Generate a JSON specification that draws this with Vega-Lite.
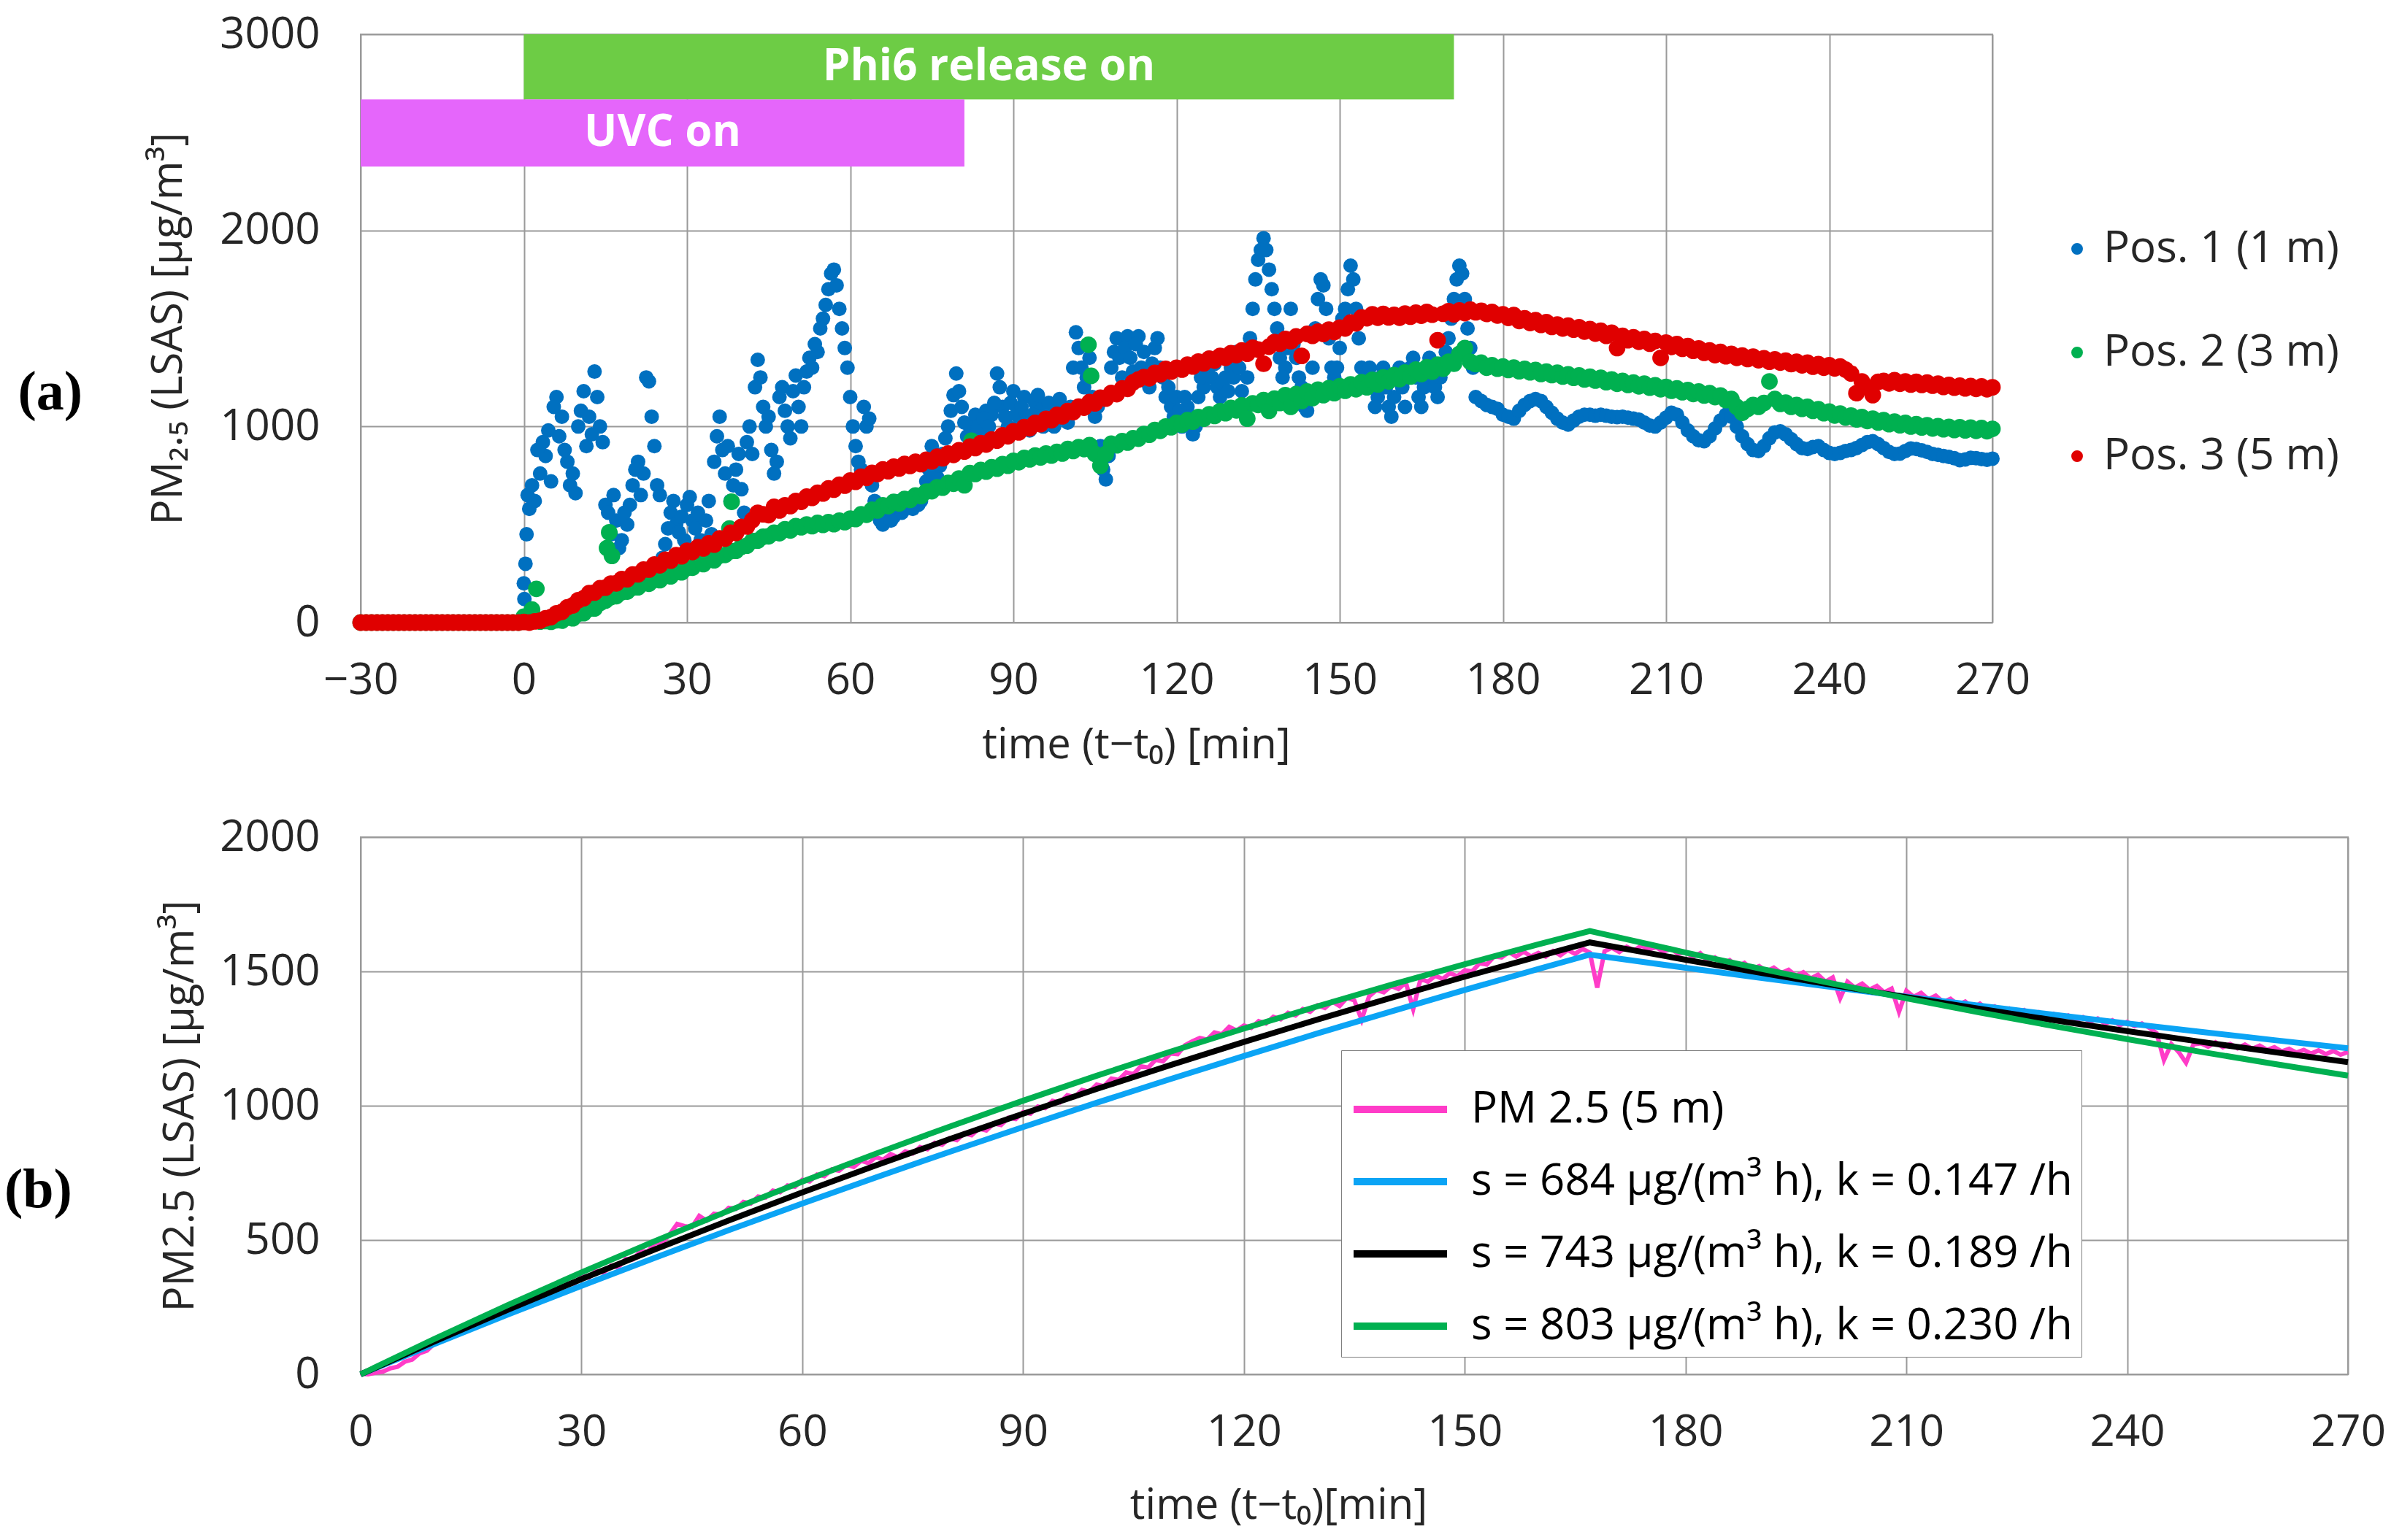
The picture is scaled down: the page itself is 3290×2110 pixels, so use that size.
{
"$schema":"https://vega.github.io/schema/vega-lite/v6.json",
"background":"white",
"padding":{"left":5,"top":16,"right":5,"bottom":5},
"spacing":65,
"config":{
"font":"Open Sans",
"view":{"stroke":"#9a9a9a","strokeWidth":2},
"axis":{"grid":true,"gridColor":"#9a9a9a","gridWidth":2,"domain":false,"ticks":false,"labelFont":"Open Sans","labelFontSize":60,"labelColor":"#262626","labelFlush":false,"labelOverlap":false,"titleFont":"Open Sans","titleFontSize":58,"titleFontWeight":"normal","titleColor":"#262626"},
"legend":{"labelFont":"Open Sans","labelFontSize":60,"labelColor":"#262626","title":null}
},
"resolve":{"scale":{"color":"independent","x":"independent","y":"independent"},"legend":{"color":"independent"}},
"datasets":{
"bars":[{"label":"Phi6 release on","start":0,"end":171,"lo":2668,"hi":3000,"mid":85.5,"ymid":2834},{"label":"UVC on","start":-30,"end":81,"lo":2325,"hi":2668,"mid":25.5,"ymid":2496}],
"fit":[
{"t":0,"s684":0,"s743":0,"s803":0},{"t":10,"s684":112.6,"s743":121.9,"s803":131.3},{"t":20,"s684":222.5,"s743":240.0,"s803":257.7},{"t":30,"s684":329.7,"s743":354.5,"s803":379.3},{"t":40,"s684":434.4,"s743":465.4,"s803":496.3},{"t":50,"s684":536.5,"s743":572.9,"s803":609.0},{"t":60,"s684":636.1,"s743":677.0,"s803":717.4},{"t":70,"s684":733.3,"s743":777.9,"s803":821.7},{"t":80,"s684":828.2,"s743":875.6,"s803":922.1},{"t":90,"s684":920.7,"s743":970.3,"s803":1018.7},{"t":100,"s684":1011.1,"s743":1062.3,"s803":1111.7},{"t":110,"s684":1099.3,"s743":1151.1,"s803":1201.2},{"t":120,"s684":1185.2,"s743":1237.3,"s803":1287.3},{"t":130,"s684":1269.2,"s743":1320.9,"s803":1370.2},{"t":140,"s684":1351.1,"s743":1401.9,"s803":1450.0},{"t":150,"s684":1431.0,"s743":1480.3,"s803":1526.8},{"t":160,"s684":1509.0,"s743":1556.3,"s803":1600.6},{"t":167,"s684":1562.6,"s743":1608.1,"s803":1650.7},{"t":180,"s684":1513.6,"s743":1543.6,"s803":1570.5},{"t":190,"s684":1477.0,"s743":1495.7,"s803":1511.4},{"t":200,"s684":1441.2,"s743":1449.3,"s803":1454.6},{"t":210,"s684":1406.4,"s743":1404.4,"s803":1399.9},{"t":220,"s684":1372.3,"s743":1360.8,"s803":1347.2},{"t":230,"s684":1339.1,"s743":1318.6,"s803":1296.6},{"t":240,"s684":1306.7,"s743":1277.8,"s803":1247.8},{"t":250,"s684":1275.1,"s743":1238.1,"s803":1200.9},{"t":260,"s684":1244.2,"s743":1199.7,"s803":1155.7},{"t":270,"s684":1214.1,"s743":1162.5,"s803":1112.2}
],
"pm":[
{"t":-30,"b":0,"g":0,"r":0},{"t":-29,"b":0,"g":0,"r":0},{"t":-28,"b":0,"g":0,"r":0},{"t":-27,"b":0,"g":0,"r":0},{"t":-26,"b":0,"g":0,"r":0},{"t":-25,"b":0,"g":0,"r":0},{"t":-24,"b":0,"g":0,"r":0},{"t":-23,"b":0,"g":0,"r":0},{"t":-22,"b":0,"g":0,"r":0},{"t":-21,"b":0,"g":0,"r":0},{"t":-20,"b":0,"g":0,"r":0},{"t":-19,"b":0,"g":0,"r":0},{"t":-18,"b":0,"g":0,"r":0},{"t":-17,"b":0,"g":0,"r":0},{"t":-16,"b":0,"g":0,"r":0},{"t":-15,"b":0,"g":0,"r":0},{"t":-14,"b":0,"g":0,"r":0},{"t":-13,"b":0,"g":0,"r":0},{"t":-12,"b":0,"g":0,"r":0},{"t":-11,"b":0,"g":0,"r":0},{"t":-10,"b":0,"g":0,"r":0},{"t":-9,"b":0,"g":0,"r":0},{"t":-8,"b":0,"g":0,"r":0},{"t":-7,"b":0,"g":0,"r":0},{"t":-6,"b":0,"g":0,"r":0},{"t":-5,"b":0,"g":0,"r":0},{"t":-4,"b":0,"g":0,"r":0},{"t":-3,"b":0,"g":0,"r":0},{"t":-2,"b":0,"g":0,"r":0},{"t":-1,"b":0,"g":0,"r":0},
{"t":0,"b":200,"g":30,"r":3},{"t":1,"b":580,"g":15,"r":0},{"t":2,"b":620,"g":25,"r":6},{"t":3,"b":760,"g":5,"r":10},{"t":4,"b":850,"g":8,"r":22},{"t":5,"b":720,"g":4,"r":28},{"t":6,"b":1150,"g":12,"r":47},{"t":7,"b":1050,"g":10,"r":55},{"t":8,"b":820,"g":25,"r":78},{"t":9,"b":760,"g":22,"r":88},
{"t":10,"b":1000,"g":45,"r":114},{"t":11,"b":1180,"g":48,"r":124},{"t":12,"b":1050,"g":70,"r":150},{"t":13,"b":1280,"g":72,"r":153},{"t":14,"b":1000,"g":100,"r":175},{"t":15,"b":600,"g":112,"r":178},{"t":16,"b":450,"g":130,"r":199},{"t":17,"b":520,"g":135,"r":200},{"t":18,"b":420,"g":155,"r":222},{"t":19,"b":500,"g":158,"r":221},
{"t":20,"b":700,"g":178,"r":245},{"t":21,"b":820,"g":180,"r":246},{"t":22,"b":760,"g":200,"r":270},{"t":23,"b":1230,"g":198,"r":270},{"t":24,"b":900,"g":218,"r":296},{"t":25,"b":650,"g":216,"r":292},{"t":26,"b":400,"g":238,"r":320},{"t":27,"b":560,"g":236,"r":316},{"t":28,"b":500,"g":258,"r":344},{"t":29,"b":540,"g":256,"r":338},
{"t":30,"b":600,"g":278,"r":366},{"t":31,"b":520,"g":280,"r":360},{"t":32,"b":560,"g":302,"r":385},{"t":33,"b":400,"g":298,"r":378},{"t":34,"b":620,"g":322,"r":404},{"t":35,"b":820,"g":318,"r":398},{"t":36,"b":1050,"g":342,"r":429},{"t":37,"b":760,"g":345,"r":428},{"t":38,"b":620,"g":364,"r":458},{"t":39,"b":780,"g":366,"r":457},
{"t":40,"b":680,"g":386,"r":488},{"t":41,"b":920,"g":392,"r":490},{"t":42,"b":860,"g":416,"r":522},{"t":43,"b":1340,"g":418,"r":560},{"t":44,"b":1100,"g":438,"r":552},{"t":45,"b":1050,"g":440,"r":548},{"t":46,"b":760,"g":458,"r":590},{"t":47,"b":1150,"g":456,"r":572},{"t":48,"b":1080,"g":476,"r":598},{"t":49,"b":940,"g":470,"r":594},
{"t":50,"b":1260,"g":492,"r":620},{"t":51,"b":1000,"g":486,"r":616},{"t":52,"b":1280,"g":500,"r":642},{"t":53,"b":1300,"g":492,"r":636},{"t":54,"b":1380,"g":508,"r":662},{"t":55,"b":1550,"g":498,"r":658},{"t":56,"b":1700,"g":512,"r":684},{"t":57,"b":1800,"g":502,"r":678},{"t":58,"b":1600,"g":520,"r":703},{"t":59,"b":1400,"g":512,"r":698},
{"t":60,"b":1150,"g":530,"r":724},{"t":61,"b":900,"g":528,"r":718},{"t":62,"b":780,"g":552,"r":744},{"t":63,"b":1000,"g":550,"r":738},{"t":64,"b":700,"g":575,"r":763},{"t":65,"b":560,"g":572,"r":758},{"t":66,"b":500,"g":598,"r":781},{"t":67,"b":560,"g":594,"r":772},{"t":68,"b":540,"g":615,"r":795},{"t":69,"b":620,"g":608,"r":786},
{"t":70,"b":580,"g":630,"r":809},{"t":71,"b":620,"g":626,"r":799},{"t":72,"b":640,"g":648,"r":820},{"t":73,"b":620,"g":645,"r":808},{"t":74,"b":720,"g":668,"r":830},{"t":75,"b":900,"g":670,"r":822},{"t":76,"b":740,"g":690,"r":846},{"t":77,"b":860,"g":688,"r":838},{"t":78,"b":1000,"g":712,"r":862},{"t":79,"b":1160,"g":708,"r":855},
{"t":80,"b":1180,"g":735,"r":879},{"t":81,"b":1020,"g":700,"r":872},{"t":82,"b":1000,"g":762,"r":897},{"t":83,"b":1060,"g":758,"r":890},{"t":84,"b":960,"g":778,"r":915},{"t":85,"b":1080,"g":770,"r":908},{"t":86,"b":1060,"g":792,"r":934},{"t":87,"b":1270,"g":785,"r":928},{"t":88,"b":1100,"g":808,"r":955},{"t":89,"b":1000,"g":800,"r":950},
{"t":90,"b":1180,"g":825,"r":976},{"t":91,"b":1000,"g":818,"r":970},{"t":92,"b":1150,"g":840,"r":997},{"t":93,"b":980,"g":832,"r":991},{"t":94,"b":1120,"g":852,"r":1018},{"t":95,"b":1080,"g":842,"r":1012},{"t":96,"b":1060,"g":862,"r":1039},{"t":97,"b":1060,"g":852,"r":1032},{"t":98,"b":1080,"g":870,"r":1059},{"t":99,"b":1100,"g":862,"r":1052},
{"t":100,"b":1020,"g":885,"r":1079},{"t":101,"b":1300,"g":875,"r":1073},{"t":102,"b":1400,"g":895,"r":1101},{"t":103,"b":1200,"g":885,"r":1096},{"t":104,"b":1350,"g":905,"r":1124},{"t":105,"b":1050,"g":860,"r":1118},{"t":106,"b":900,"g":800,"r":1147},{"t":107,"b":730,"g":860,"r":1142},{"t":108,"b":1300,"g":912,"r":1171},{"t":109,"b":1450,"g":904,"r":1165},
{"t":110,"b":1250,"g":925,"r":1194},{"t":111,"b":1460,"g":918,"r":1192},{"t":112,"b":1280,"g":940,"r":1225},{"t":113,"b":1460,"g":938,"r":1240},{"t":114,"b":1380,"g":962,"r":1252},{"t":115,"b":1200,"g":958,"r":1246},{"t":116,"b":1400,"g":982,"r":1273},{"t":117,"b":1300,"g":978,"r":1266},{"t":118,"b":1150,"g":1000,"r":1294},{"t":119,"b":1100,"g":996,"r":1280},
{"t":120,"b":1150,"g":1018,"r":1299},{"t":121,"b":1000,"g":1010,"r":1290},{"t":122,"b":1100,"g":1032,"r":1315},{"t":123,"b":960,"g":1025,"r":1306},{"t":124,"b":1150,"g":1048,"r":1331},{"t":125,"b":1200,"g":1040,"r":1322},{"t":126,"b":1350,"g":1062,"r":1346},{"t":127,"b":1320,"g":1054,"r":1336},{"t":128,"b":1150,"g":1078,"r":1360},{"t":129,"b":1250,"g":1068,"r":1350},
{"t":130,"b":1300,"g":1095,"r":1374},{"t":131,"b":1380,"g":1082,"r":1364},{"t":132,"b":1180,"g":1108,"r":1388},{"t":133,"b":1250,"g":1040,"r":1371},{"t":134,"b":1600,"g":1118,"r":1402},{"t":135,"b":1850,"g":1110,"r":1392},{"t":136,"b":1960,"g":1135,"r":1320},{"t":137,"b":1800,"g":1080,"r":1407},{"t":138,"b":1600,"g":1142,"r":1431},{"t":139,"b":1350,"g":1120,"r":1422},
{"t":140,"b":1300,"g":1160,"r":1446},{"t":141,"b":1600,"g":1100,"r":1435},{"t":142,"b":1350,"g":1165,"r":1459},{"t":143,"b":1200,"g":1130,"r":1360},{"t":144,"b":1080,"g":1178,"r":1472},{"t":145,"b":1300,"g":1145,"r":1462},{"t":146,"b":1650,"g":1188,"r":1484},{"t":147,"b":1720,"g":1160,"r":1472},{"t":148,"b":1450,"g":1195,"r":1494},{"t":149,"b":1250,"g":1170,"r":1482},
{"t":150,"b":1400,"g":1205,"r":1504},{"t":151,"b":1600,"g":1182,"r":1500},{"t":152,"b":1820,"g":1215,"r":1530},{"t":153,"b":1600,"g":1190,"r":1526},{"t":154,"b":1300,"g":1226,"r":1556},{"t":155,"b":1280,"g":1200,"r":1552},{"t":156,"b":1200,"g":1238,"r":1572},{"t":157,"b":1150,"g":1215,"r":1555},{"t":158,"b":1300,"g":1250,"r":1574},{"t":159,"b":1100,"g":1230,"r":1556},
{"t":160,"b":1150,"g":1262,"r":1569},{"t":161,"b":1300,"g":1242,"r":1555},{"t":162,"b":1100,"g":1275,"r":1576},{"t":163,"b":1300,"g":1255,"r":1560},{"t":164,"b":1250,"g":1290,"r":1580},{"t":165,"b":1100,"g":1268,"r":1565},{"t":166,"b":1300,"g":1302,"r":1584},{"t":167,"b":1250,"g":1280,"r":1570},{"t":168,"b":1150,"g":1315,"r":1440},{"t":169,"b":1300,"g":1295,"r":1575},
{"t":170,"b":1450,"g":1330,"r":1588},{"t":171,"b":1650,"g":1320,"r":1572},{"t":172,"b":1820,"g":1370,"r":1592},{"t":173,"b":1650,"g":1400,"r":1578},{"t":174,"b":1400,"g":1330,"r":1596},{"t":175,"b":1150,"g":1318,"r":1582},{"t":176,"b":1130,"g":1325,"r":1590},{"t":177,"b":1110,"g":1300,"r":1574},{"t":178,"b":1100,"g":1312,"r":1584},{"t":179,"b":1090,"g":1295,"r":1566},
{"t":180,"b":1060,"g":1306,"r":1572},{"t":181,"b":1050,"g":1288,"r":1554},{"t":182,"b":1040,"g":1300,"r":1568},{"t":183,"b":1080,"g":1282,"r":1538},{"t":184,"b":1110,"g":1294,"r":1552},{"t":185,"b":1130,"g":1276,"r":1528},{"t":186,"b":1140,"g":1288,"r":1542},{"t":187,"b":1130,"g":1268,"r":1518},{"t":188,"b":1100,"g":1280,"r":1532},{"t":189,"b":1070,"g":1262,"r":1508},
{"t":190,"b":1040,"g":1274,"r":1520},{"t":191,"b":1020,"g":1255,"r":1500},{"t":192,"b":1010,"g":1266,"r":1514},{"t":193,"b":1030,"g":1248,"r":1494},{"t":194,"b":1050,"g":1260,"r":1506},{"t":195,"b":1060,"g":1240,"r":1484},{"t":196,"b":1060,"g":1254,"r":1497},{"t":197,"b":1055,"g":1234,"r":1474},{"t":198,"b":1060,"g":1248,"r":1488},{"t":199,"b":1055,"g":1226,"r":1462},
{"t":200,"b":1050,"g":1240,"r":1478},{"t":201,"b":1048,"g":1218,"r":1400},{"t":202,"b":1050,"g":1232,"r":1462},{"t":203,"b":1045,"g":1212,"r":1440},{"t":204,"b":1040,"g":1224,"r":1455},{"t":205,"b":1035,"g":1205,"r":1432},{"t":206,"b":1020,"g":1218,"r":1446},{"t":207,"b":1005,"g":1198,"r":1422},{"t":208,"b":1000,"g":1210,"r":1436},{"t":209,"b":1020,"g":1190,"r":1350},
{"t":210,"b":1045,"g":1202,"r":1428},{"t":211,"b":1070,"g":1182,"r":1406},{"t":212,"b":1060,"g":1194,"r":1420},{"t":213,"b":1020,"g":1175,"r":1396},{"t":214,"b":980,"g":1186,"r":1410},{"t":215,"b":950,"g":1166,"r":1386},{"t":216,"b":930,"g":1178,"r":1398},{"t":217,"b":925,"g":1158,"r":1376},{"t":218,"b":950,"g":1170,"r":1388},{"t":219,"b":990,"g":1150,"r":1364},
{"t":220,"b":1030,"g":1158,"r":1380},{"t":221,"b":1060,"g":1135,"r":1358},{"t":222,"b":1050,"g":1140,"r":1370},{"t":223,"b":1000,"g":1100,"r":1350},{"t":224,"b":950,"g":1070,"r":1362},{"t":225,"b":910,"g":1090,"r":1344},{"t":226,"b":880,"g":1110,"r":1356},{"t":227,"b":875,"g":1100,"r":1338},{"t":228,"b":900,"g":1120,"r":1348},{"t":229,"b":940,"g":1230,"r":1330},
{"t":230,"b":970,"g":1140,"r":1342},{"t":231,"b":975,"g":1115,"r":1326},{"t":232,"b":960,"g":1122,"r":1336},{"t":233,"b":935,"g":1100,"r":1318},{"t":234,"b":910,"g":1110,"r":1330},{"t":235,"b":890,"g":1090,"r":1312},{"t":236,"b":885,"g":1100,"r":1325},{"t":237,"b":895,"g":1080,"r":1305},{"t":238,"b":900,"g":1088,"r":1318},{"t":239,"b":880,"g":1068,"r":1300},
{"t":240,"b":865,"g":1076,"r":1312},{"t":241,"b":860,"g":1056,"r":1296},{"t":242,"b":865,"g":1066,"r":1306},{"t":243,"b":875,"g":1046,"r":1290},{"t":244,"b":880,"g":1056,"r":1270},{"t":245,"b":890,"g":1036,"r":1170},{"t":246,"b":905,"g":1048,"r":1230},{"t":247,"b":920,"g":1028,"r":1200},{"t":248,"b":925,"g":1040,"r":1160},{"t":249,"b":910,"g":1020,"r":1228},
{"t":250,"b":890,"g":1032,"r":1232},{"t":251,"b":870,"g":1012,"r":1220},{"t":252,"b":860,"g":1025,"r":1236},{"t":253,"b":862,"g":1006,"r":1218},{"t":254,"b":875,"g":1018,"r":1230},{"t":255,"b":888,"g":1000,"r":1214},{"t":256,"b":885,"g":1012,"r":1228},{"t":257,"b":878,"g":995,"r":1212},{"t":258,"b":870,"g":1006,"r":1224},{"t":259,"b":860,"g":990,"r":1208},
{"t":260,"b":855,"g":1002,"r":1218},{"t":261,"b":850,"g":986,"r":1202},{"t":262,"b":845,"g":998,"r":1212},{"t":263,"b":838,"g":982,"r":1198},{"t":264,"b":828,"g":996,"r":1208},{"t":265,"b":832,"g":980,"r":1194},{"t":266,"b":840,"g":994,"r":1206},{"t":267,"b":838,"g":978,"r":1192},{"t":268,"b":834,"g":992,"r":1204},{"t":269,"b":830,"g":976,"r":1190},{"t":270,"b":836,"g":988,"r":1200},
{"t":0.1,"b":120},{"t":0.3,"b":300},{"t":0.5,"b":450},{"t":0.7,"b":650},{"t":1.5,"b":700},{"t":2.5,"b":880},{"t":3.5,"b":920},{"t":4.5,"b":980},{"t":5.5,"b":1100},{"t":6.5,"b":950},{"t":7.5,"b":880},{"t":8.5,"b":700},{"t":9.5,"b":660},{"t":10.5,"b":1080},{"t":11.5,"b":900},{"t":12.5,"b":960},{"t":13.5,"b":1150},{"t":14.5,"b":920},{"t":15.5,"b":560},{"t":16.5,"b":650},{"t":17.5,"b":380},{"t":18.5,"b":560},{"t":19.5,"b":600},
{"t":20.5,"b":780},{"t":21.5,"b":650},{"t":22.5,"b":1250},{"t":23.5,"b":1050},{"t":24.5,"b":700},{"t":25.5,"b":330},{"t":26.5,"b":480},{"t":27.5,"b":620},{"t":28.5,"b":460},{"t":29.5,"b":420},{"t":30.5,"b":640},{"t":31.5,"b":480},{"t":32.5,"b":420},{"t":33.5,"b":520},{"t":34.5,"b":450},{"t":35.5,"b":950},{"t":36.5,"b":880},{"t":37.5,"b":900},{"t":38.5,"b":700},{"t":39.5,"b":860},
{"t":40.5,"b":560},{"t":41.5,"b":1000},{"t":42.5,"b":1200},{"t":43.5,"b":1250},{"t":44.5,"b":1000},{"t":45.5,"b":880},{"t":46.5,"b":820},{"t":47.5,"b":1200},{"t":48.5,"b":1000},{"t":49.5,"b":1180},{"t":50.5,"b":1100},{"t":51.5,"b":1200},{"t":52.5,"b":1350},{"t":53.5,"b":1420},{"t":54.5,"b":1500},{"t":55.5,"b":1620},{"t":56.5,"b":1780},{"t":57.5,"b":1720},{"t":58.5,"b":1500},{"t":59.5,"b":1300},
{"t":60.5,"b":1000},{"t":61.5,"b":820},{"t":62.5,"b":1100},{"t":63.5,"b":1040},{"t":64.5,"b":620},{"t":65.5,"b":520},{"t":66.5,"b":540},{"t":67.5,"b":520},{"t":68.5,"b":600},{"t":69.5,"b":560},{"t":70.5,"b":600},{"t":71.5,"b":580},{"t":72.5,"b":600},{"t":73.5,"b":660},{"t":74.5,"b":780},{"t":75.5,"b":820},{"t":76.5,"b":800},{"t":77.5,"b":940},{"t":78.5,"b":1080},{"t":79.5,"b":1270},
{"t":80.5,"b":1100},{"t":81.5,"b":950},{"t":82.5,"b":940},{"t":83.5,"b":1000},{"t":84.5,"b":1040},{"t":85.5,"b":1000},{"t":86.5,"b":1120},{"t":87.5,"b":1200},{"t":88.5,"b":1050},{"t":89.5,"b":1120},{"t":90.5,"b":1060},{"t":91.5,"b":1100},{"t":92.5,"b":1050},{"t":93.5,"b":1060},{"t":94.5,"b":1160},{"t":95.5,"b":1000},{"t":96.5,"b":1120},{"t":97.5,"b":1000},{"t":98.5,"b":1140},{"t":99.5,"b":1050},
{"t":100.5,"b":1100},{"t":101.5,"b":1480},{"t":102.5,"b":1300},{"t":103.5,"b":1250},{"t":104.5,"b":1150},{"t":105.5,"b":1100},{"t":106.5,"b":780},{"t":107.5,"b":850},{"t":108.5,"b":1380},{"t":109.5,"b":1350},{"t":110.5,"b":1400},{"t":111.5,"b":1350},{"t":112.5,"b":1420},{"t":113.5,"b":1300},{"t":114.5,"b":1250},{"t":115.5,"b":1320},{"t":116.5,"b":1450},{"t":117.5,"b":1250},{"t":118.5,"b":1200},{"t":119.5,"b":1050},
{"t":120.5,"b":1080},{"t":121.5,"b":1150},{"t":122.5,"b":1050},{"t":123.5,"b":1000},{"t":124.5,"b":1250},{"t":125.5,"b":1300},{"t":126.5,"b":1250},{"t":127.5,"b":1200},{"t":128.5,"b":1220},{"t":129.5,"b":1180},{"t":130.5,"b":1250},{"t":131.5,"b":1300},{"t":132.5,"b":1100},{"t":133.5,"b":1450},{"t":134.5,"b":1750},{"t":135.5,"b":1900},{"t":136.5,"b":1900},{"t":137.5,"b":1700},{"t":138.5,"b":1500},{"t":139.5,"b":1250},
{"t":140.5,"b":1400},{"t":141.5,"b":1420},{"t":142.5,"b":1250},{"t":143.5,"b":1100},{"t":144.5,"b":1150},{"t":145.5,"b":1500},{"t":146.5,"b":1750},{"t":147.5,"b":1600},{"t":148.5,"b":1300},{"t":149.5,"b":1300},{"t":150.5,"b":1550},{"t":151.5,"b":1700},{"t":152.5,"b":1750},{"t":153.5,"b":1450},{"t":154.5,"b":1200},{"t":155.5,"b":1300},{"t":156.5,"b":1100},{"t":157.5,"b":1250},{"t":158.5,"b":1200},{"t":159.5,"b":1050},
{"t":160.5,"b":1250},{"t":161.5,"b":1200},{"t":162.5,"b":1250},{"t":163.5,"b":1350},{"t":164.5,"b":1150},{"t":165.5,"b":1200},{"t":166.5,"b":1350},{"t":167.5,"b":1200},{"t":168.5,"b":1250},{"t":169.5,"b":1380},{"t":170.5,"b":1550},{"t":171.5,"b":1750},{"t":172.5,"b":1780},{"t":173.5,"b":1500},{"t":174.5,"b":1300},
{"t":1.5,"g":66},{"t":2.3,"g":172},{"t":15.3,"g":380},{"t":15.7,"g":460},{"t":16.2,"g":340},{"t":37.8,"g":480},{"t":38.2,"g":616},{"t":82.3,"g":927},{"t":103.8,"g":1417},{"t":104.3,"g":1258}
]
},
"vconcat":[
{
"width":2235,"height":806,
"title":{"text":"(a)","orient":"left","angle":0,"font":"Liberation Serif","fontSize":76,"fontWeight":"bold","color":"#000000","align":"right","baseline":"middle","anchor":"middle","offset":1,"dy":88},
"layer":[
{"mark":{"type":"rule","color":"#000000","strokeWidth":8},
 "encoding":{"x":{"datum":0,"type":"quantitative","scale":{"domain":[-30,270],"nice":false,"zero":false},"axis":{"values":[-30,0,30,60,90,120,150,180,210,240,270],"title":"time (t−t₀) [min]","titleX":1062,"labelPadding":50,"titlePadding":30}}}},
{"data":{"name":"bars"},"mark":{"type":"rect"},
 "encoding":{"x":{"field":"start","type":"quantitative","title":"time (t−t₀) [min]"},"x2":{"field":"end"},
 "y":{"field":"lo","type":"quantitative","scale":{"domain":[0,3000],"nice":false,"zero":true},"axis":{"values":[0,1000,2000,3000],"format":"d","title":"PM₂.₅ (LSAS) [µg/m³]","labelPadding":56,"titlePadding":40}},"y2":{"field":"hi"},
 "fill":{"field":"label","type":"nominal","scale":{"domain":["Phi6 release on","UVC on"],"range":["#6DCC45","#E566FB"]},"legend":null}}},
{"data":{"name":"bars"},"mark":{"type":"text","fontSize":60,"fontWeight":"bold","color":"#ffffff","baseline":"middle","align":"center"},
 "encoding":{"x":{"field":"mid","type":"quantitative","title":"time (t−t₀) [min]"},"y":{"field":"ymid","type":"quantitative","title":"PM₂.₅ (LSAS) [µg/m³]"},"text":{"field":"label"}}},
{"data":{"name":"pm"},"transform":[{"filter":"isValid(datum.b)"}],"mark":{"type":"circle","size":400,"opacity":1},
 "encoding":{"x":{"field":"t","type":"quantitative","title":"time (t−t₀) [min]"},"y":{"field":"b","type":"quantitative","title":"PM₂.₅ (LSAS) [µg/m³]"},
 "color":{"datum":"Pos. 1 (1 m)","type":"nominal","scale":{"domain":["Pos. 1 (1 m)","Pos. 2 (3 m)","Pos. 3 (5 m)"],"range":["#0070C0","#00B050","#E00000"]},
 "legend":{"orient":"none","legendX":2321,"legendY":264,"padding":0,"symbolType":"circle","symbolSize":254,"symbolStrokeWidth":0,"rowPadding":82,"labelOffset":6,"labelFontSize":60,"labelLimit":600}}}},
{"data":{"name":"pm"},"transform":[{"filter":"isValid(datum.g)"}],"mark":{"type":"circle","size":520,"opacity":1},
 "encoding":{"x":{"field":"t","type":"quantitative","title":"time (t−t₀) [min]"},"y":{"field":"g","type":"quantitative","title":"PM₂.₅ (LSAS) [µg/m³]"},"color":{"datum":"Pos. 2 (3 m)","type":"nominal"}}},
{"data":{"name":"pm"},"transform":[{"filter":"isValid(datum.r)"}],"mark":{"type":"circle","size":520,"opacity":1},
 "encoding":{"x":{"field":"t","type":"quantitative","title":"time (t−t₀) [min]"},"y":{"field":"r","type":"quantitative","title":"PM₂.₅ (LSAS) [µg/m³]"},"color":{"datum":"Pos. 3 (5 m)","type":"nominal"}}}
]
},
{
"width":2722,"height":736,
"title":{"text":"(b)","orient":"left","angle":0,"font":"Liberation Serif","fontSize":76,"fontWeight":"bold","color":"#000000","align":"right","baseline":"middle","anchor":"middle","offset":27,"dy":116},
"layer":[
{"data":{"name":"pm"},"transform":[{"filter":"isValid(datum.r) && datum.t >= 0"}],"mark":{"type":"line","strokeWidth":6},
 "encoding":{"x":{"field":"t","type":"quantitative","scale":{"domain":[0,270],"nice":false,"zero":false},"axis":{"values":[0,30,60,90,120,150,180,210,240,270],"title":"time (t−t₀)[min]","titleX":1257,"labelPadding":50,"titlePadding":42}},
 "y":{"field":"r","type":"quantitative","scale":{"domain":[0,2000],"nice":false},"axis":{"values":[0,500,1000,1500,2000],"format":"d","title":"PM2.5 (LSAS) [µg/m³]","labelPadding":56,"titlePadding":24}},
 "color":{"datum":"PM 2.5 (5 m)","type":"nominal","scale":{"domain":["PM 2.5 (5 m)","s = 684 µg/(m³ h), k = 0.147 /h","s = 743 µg/(m³ h), k = 0.189 /h","s = 803 µg/(m³ h), k = 0.230 /h"],"range":["#FF3CC8","#0BA4F5","#000000","#00B050"]},
 "legend":{"orient":"none","legendX":1343,"legendY":292,"padding":12,"strokeColor":"#7f7f7f","fillColor":"#ffffff","symbolType":"stroke","symbolSize":16384,"symbolStrokeWidth":10,"rowPadding":-7,"labelOffset":28,"labelFontSize":60,"labelColor":"#000000","labelLimit":1000}}}},
{"data":{"name":"fit"},"mark":{"type":"line","strokeWidth":8},
 "encoding":{"x":{"field":"t","type":"quantitative","title":"time (t−t₀)[min]"},"y":{"field":"s684","type":"quantitative","title":"PM2.5 (LSAS) [µg/m³]"},"color":{"datum":"s = 684 µg/(m³ h), k = 0.147 /h","type":"nominal"}}},
{"data":{"name":"fit"},"mark":{"type":"line","strokeWidth":8},
 "encoding":{"x":{"field":"t","type":"quantitative","title":"time (t−t₀)[min]"},"y":{"field":"s743","type":"quantitative","title":"PM2.5 (LSAS) [µg/m³]"},"color":{"datum":"s = 743 µg/(m³ h), k = 0.189 /h","type":"nominal"}}},
{"data":{"name":"fit"},"mark":{"type":"line","strokeWidth":8},
 "encoding":{"x":{"field":"t","type":"quantitative","title":"time (t−t₀)[min]"},"y":{"field":"s803","type":"quantitative","title":"PM2.5 (LSAS) [µg/m³]"},"color":{"datum":"s = 803 µg/(m³ h), k = 0.230 /h","type":"nominal"}}}
]
}
]
}
